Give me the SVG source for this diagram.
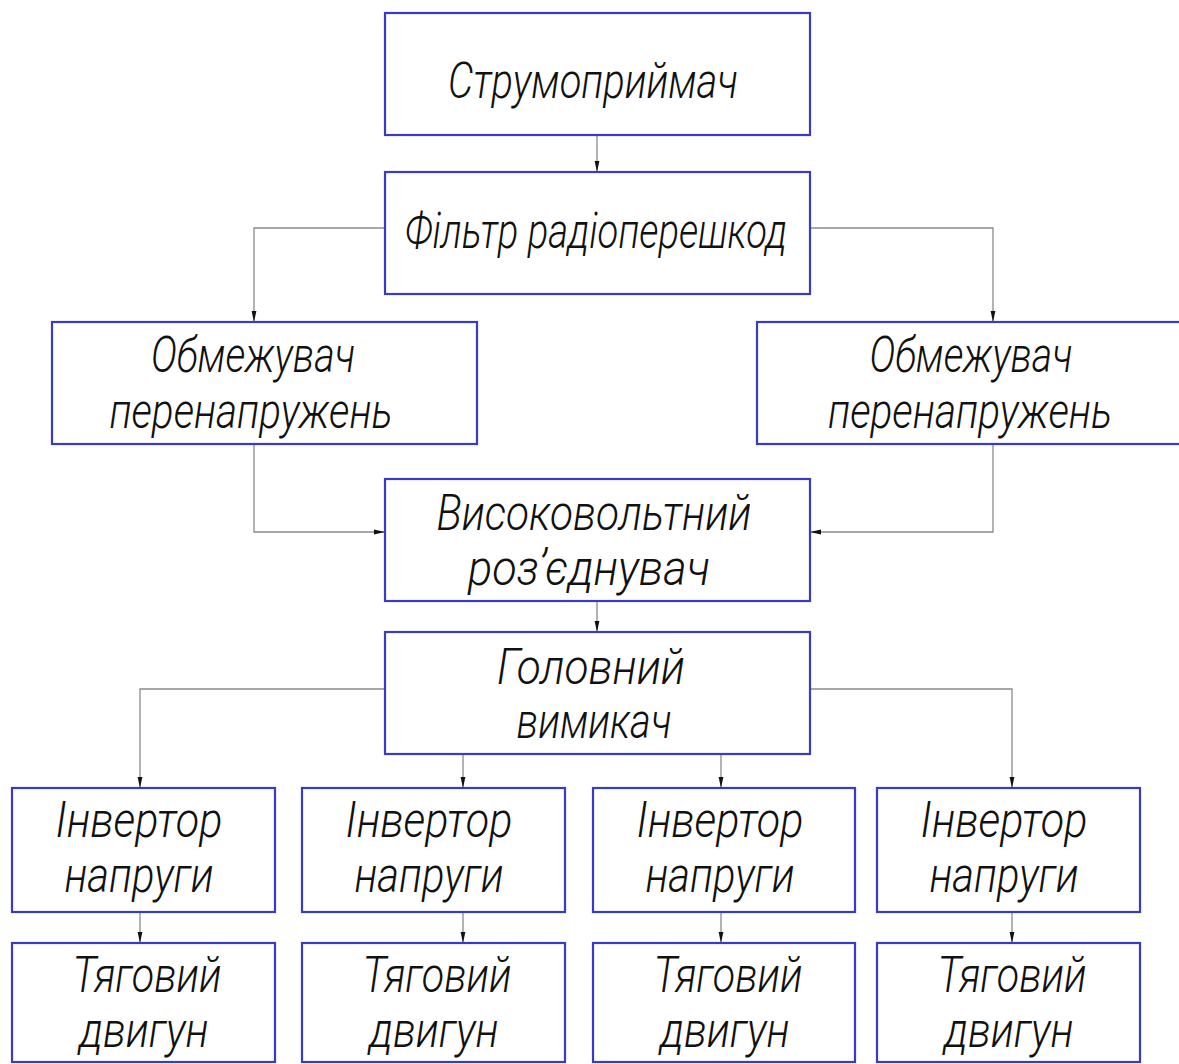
<svg xmlns="http://www.w3.org/2000/svg" width="1179" height="1064" viewBox="0 0 1179 1064">
<style>
.box{fill:#ffffff;stroke:#3a3ac8;stroke-width:2.2}
.lbl{font-family:"Roboto","DejaVu Sans","Liberation Sans",sans-serif;font-style:italic;font-weight:300;font-size:50px;fill:#111111;text-anchor:middle}
.con{fill:none;stroke:#8a8a8a;stroke-width:1.3}
</style>
<defs>
<marker id="arr" markerUnits="userSpaceOnUse" markerWidth="12" markerHeight="8" refX="11" refY="4" orient="auto">
<path d="M0,1.6 L11,4 L0,6.4 Z" fill="#111"/>
</marker>
</defs>
<rect width="1179" height="1064" fill="#ffffff"/>
<g id="connectors">
<path class="con" d="M597,135 V172" marker-end="url(#arr)"/>
<path class="con" d="M385,228 H254 V322" marker-end="url(#arr)"/>
<path class="con" d="M810,228 H993 V322" marker-end="url(#arr)"/>
<path class="con" d="M254,444 V532 H385" marker-end="url(#arr)"/>
<path class="con" d="M993,444 V532 H810" marker-end="url(#arr)"/>
<path class="con" d="M597,601 V632" marker-end="url(#arr)"/>
<path class="con" d="M385,689 H140 V788" marker-end="url(#arr)"/>
<path class="con" d="M463,754 V788" marker-end="url(#arr)"/>
<path class="con" d="M721,754 V788" marker-end="url(#arr)"/>
<path class="con" d="M810,689 H1012 V788" marker-end="url(#arr)"/>
<path class="con" d="M140,912 V943" marker-end="url(#arr)"/>
<path class="con" d="M463,912 V943" marker-end="url(#arr)"/>
<path class="con" d="M721,912 V943" marker-end="url(#arr)"/>
<path class="con" d="M1012,912 V943" marker-end="url(#arr)"/>
</g>
<g id="n_strum"><rect class="box" x="385" y="13" width="425" height="122"/><text class="lbl" x="593" y="98" font-size="54" textLength="290" lengthAdjust="spacingAndGlyphs">Струмоприймач</text></g>
<g id="n_filtr"><rect class="box" x="385" y="172" width="425" height="122"/><text class="lbl" x="596" y="248" textLength="382" lengthAdjust="spacingAndGlyphs">Фільтр радіоперешкод</text></g>
<g id="n_obm_l"><rect class="box" x="52" y="322" width="425" height="122"/><text class="lbl" x="253" y="372" textLength="204" lengthAdjust="spacingAndGlyphs">Обмежувач</text><text class="lbl" x="251" y="428" textLength="283" lengthAdjust="spacingAndGlyphs">перенапружень</text></g>
<g id="n_obm_r"><rect class="box" x="757" y="322" width="430" height="122"/><text class="lbl" x="971" y="372" textLength="203" lengthAdjust="spacingAndGlyphs">Обмежувач</text><text class="lbl" x="970" y="428" textLength="284" lengthAdjust="spacingAndGlyphs">перенапружень</text></g>
<g id="n_vysok"><rect class="box" x="385" y="479" width="425" height="122"/><text class="lbl" x="594" y="530" textLength="315" lengthAdjust="spacingAndGlyphs">Високовольтний</text><text class="lbl" x="589" y="585" textLength="242" lengthAdjust="spacingAndGlyphs">роз’єднувач</text></g>
<g id="n_golov"><rect class="box" x="385" y="632" width="425" height="122"/><text class="lbl" x="591" y="684" textLength="188" lengthAdjust="spacingAndGlyphs">Головний</text><text class="lbl" x="594" y="738" textLength="155" lengthAdjust="spacingAndGlyphs">вимикач</text></g>
<g id="n_inv1"><rect class="box" x="12" y="788" width="263" height="124"/><text class="lbl" x="139" y="837" textLength="167" lengthAdjust="spacingAndGlyphs">Інвертор</text><text class="lbl" x="139" y="892" textLength="149" lengthAdjust="spacingAndGlyphs">напруги</text></g>
<g id="n_inv2"><rect class="box" x="302" y="788" width="263" height="124"/><text class="lbl" x="429" y="837" textLength="167" lengthAdjust="spacingAndGlyphs">Інвертор</text><text class="lbl" x="429" y="892" textLength="149" lengthAdjust="spacingAndGlyphs">напруги</text></g>
<g id="n_inv3"><rect class="box" x="593" y="788" width="262" height="124"/><text class="lbl" x="720" y="837" textLength="167" lengthAdjust="spacingAndGlyphs">Інвертор</text><text class="lbl" x="720" y="892" textLength="149" lengthAdjust="spacingAndGlyphs">напруги</text></g>
<g id="n_inv4"><rect class="box" x="877" y="788" width="263" height="124"/><text class="lbl" x="1004" y="837" textLength="167" lengthAdjust="spacingAndGlyphs">Інвертор</text><text class="lbl" x="1004" y="892" textLength="149" lengthAdjust="spacingAndGlyphs">напруги</text></g>
<g id="n_dv1"><rect class="box" x="12" y="943" width="263" height="119"/><text class="lbl" x="147" y="992" textLength="149" lengthAdjust="spacingAndGlyphs">Тяговий</text><text class="lbl" x="144" y="1047" textLength="129" lengthAdjust="spacingAndGlyphs">двигун</text></g>
<g id="n_dv2"><rect class="box" x="302" y="943" width="263" height="119"/><text class="lbl" x="437" y="992" textLength="149" lengthAdjust="spacingAndGlyphs">Тяговий</text><text class="lbl" x="434" y="1047" textLength="129" lengthAdjust="spacingAndGlyphs">двигун</text></g>
<g id="n_dv3"><rect class="box" x="593" y="943" width="262" height="119"/><text class="lbl" x="728" y="992" textLength="149" lengthAdjust="spacingAndGlyphs">Тяговий</text><text class="lbl" x="725" y="1047" textLength="129" lengthAdjust="spacingAndGlyphs">двигун</text></g>
<g id="n_dv4"><rect class="box" x="877" y="943" width="263" height="119"/><text class="lbl" x="1012" y="992" textLength="149" lengthAdjust="spacingAndGlyphs">Тяговий</text><text class="lbl" x="1009" y="1047" textLength="129" lengthAdjust="spacingAndGlyphs">двигун</text></g>
</svg>
